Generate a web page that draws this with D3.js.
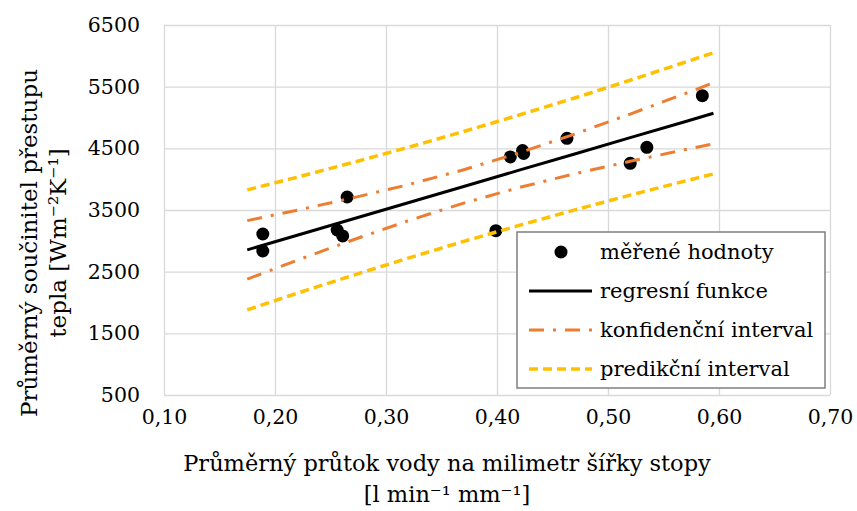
<!DOCTYPE html>
<html>
<head>
<meta charset="utf-8">
<script src="https://cdn.jsdelivr.net/npm/d3@7"></script>
<style>
  html, body { margin: 0; padding: 0; background: #fff; }
  svg text { font-family: "DejaVu Serif", serif; fill: #000; }
</style>
</head>
<body>
<svg id="chart" width="857" height="511"></svg>
<script>
// measured values (průtok, součinitel)
const xData = [0.189, 0.189, 0.265, 0.256, 0.261, 0.399, 0.412, 0.423, 0.424, 0.463, 0.520, 0.535, 0.585];
const yData = [3111, 2835, 3711, 3176, 3079, 3165, 4360, 4465, 4416, 4663, 4257, 4517, 5354];

// fitted curves
const fitX       = [0.175, 0.22, 0.27, 0.32, 0.37, 0.42, 0.47, 0.52, 0.57, 0.595];
const regY       = [2854, 3091, 3355, 3618, 3882, 4146, 4409, 4673, 4936, 5068];
const confUpper  = [3328, 3497, 3696, 3910, 4152, 4427, 4731, 5056, 5391, 5563];
const confLower  = [2380, 2685, 3014, 3326, 3612, 3865, 4087, 4290, 4481, 4573];
const predUpper  = [3827, 4032, 4270, 4516, 4773, 5041, 5317, 5604, 5900, 6051];
const predLower  = [1881, 2150, 2440, 2720, 2991, 3251, 3501, 3742, 3972, 4085];

const xTicks = [0.10, 0.20, 0.30, 0.40, 0.50, 0.60, 0.70];
const yTicks = [500, 1500, 2500, 3500, 4500, 5500, 6500];

const legendLabels = ["měřené hodnoty", "regresní funkce", "konfidenční interval", "predikční interval"];

const C_ORANGE = "#ED7D31", C_YELLOW = "#FFC000", C_GRID = "#d9d9d9";

const svg = d3.select("#chart");
const plot = {left: 164, right: 830, top: 25, bottom: 395};

const x = d3.scaleLinear().domain([0.10, 0.70]).range([plot.left, plot.right]);
const y = d3.scaleLinear().domain([500, 6500]).range([plot.bottom, plot.top]);

// gridlines
const gx = svg.append("g").attr("transform", `translate(0,${plot.bottom})`)
  .call(d3.axisBottom(x).tickValues(xTicks).tickSize(-(plot.bottom - plot.top))
        .tickFormat(d => d3.format(".2f")(d).replace(".", ",")).tickPadding(14));
gx.select(".domain").remove();
gx.selectAll("line").attr("stroke", C_GRID).attr("stroke-width", 1.3);
gx.selectAll("text").attr("font-size", 20.5).attr("font-family", "DejaVu Serif").attr("fill", "#000");

const gy = svg.append("g").attr("transform", `translate(${plot.left},0)`)
  .call(d3.axisLeft(y).tickValues(yTicks).tickSize(-(plot.right - plot.left))
        .tickFormat(d3.format("d")).tickPadding(24));
gy.select(".domain").remove();
gy.selectAll("line").attr("stroke", C_GRID).attr("stroke-width", 1.3);
gy.selectAll("text").attr("font-size", 20.5).attr("font-family", "DejaVu Serif").attr("fill", "#000");

// points
svg.append("g").selectAll("circle").data(xData.map((d, i) => [d, yData[i]])).enter()
  .append("circle").attr("cx", d => x(d[0])).attr("cy", d => y(d[1])).attr("r", 6.5).attr("fill", "#000");

const line = d3.line().x(d => x(d[0])).y(d => y(d[1]));
function drawLine(vals, color, width, dash) {
  svg.append("path").datum(fitX.map((d, i) => [d, vals[i]]))
    .attr("d", line).attr("fill", "none").attr("stroke", color).attr("stroke-width", width)
    .attr("stroke-dasharray", dash || null);
}
drawLine(regY, "#000", 3);
drawLine(confUpper, C_ORANGE, 3, "15,9,3,9");
drawLine(confLower, C_ORANGE, 3, "15,9,3,9");
drawLine(predUpper, C_YELLOW, 3.5, "9,5");
drawLine(predLower, C_YELLOW, 3.5, "9,5");

// legend
const lg = svg.append("g");
lg.append("rect").attr("x", 517).attr("y", 232).attr("width", 308).attr("height", 156)
  .attr("fill", "#fff").attr("stroke", "#7f7f7f").attr("stroke-width", 1.5);
const rowY = [252, 291, 330, 369];
lg.append("circle").attr("cx", 561).attr("cy", rowY[0]).attr("r", 6.5).attr("fill", "#000");
lg.append("line").attr("x1", 529).attr("x2", 592).attr("y1", rowY[1]).attr("y2", rowY[1])
  .attr("stroke", "#000").attr("stroke-width", 3);
lg.append("line").attr("x1", 529).attr("x2", 592).attr("y1", rowY[2]).attr("y2", rowY[2])
  .attr("stroke", C_ORANGE).attr("stroke-width", 3).attr("stroke-dasharray", "15,9,3,9");
lg.append("line").attr("x1", 529).attr("x2", 592).attr("y1", rowY[3]).attr("y2", rowY[3])
  .attr("stroke", C_YELLOW).attr("stroke-width", 3.5).attr("stroke-dasharray", "9,5");
lg.selectAll("text.lt").data(legendLabels).enter().append("text")
  .attr("class", "lt").attr("x", 600).attr("y", (d, i) => rowY[i]).attr("dy", "0.32em")
  .attr("font-size", 21).text(d => d);

// axis titles
svg.append("text").attr("x", 447).attr("y", 463).attr("dy", "0.35em").attr("text-anchor", "middle")
  .attr("font-size", 22.5).text("Průměrný průtok vody na milimetr šířky stopy");
svg.append("text").attr("x", 447).attr("y", 494).attr("dy", "0.35em").attr("text-anchor", "middle")
  .attr("font-size", 22.5).text("[l min⁻¹ mm⁻¹]");

const yt = svg.append("g").attr("transform", "translate(0,243) rotate(-90)");
yt.append("text").attr("x", 0).attr("y", 29).attr("dy", "0.35em").attr("text-anchor", "middle")
  .attr("font-size", 23).text("Průměrný součinitel přestupu");
yt.append("text").attr("x", 0).attr("y", 58).attr("dy", "0.35em").attr("text-anchor", "middle")
  .attr("font-size", 23).text("tepla [Wm⁻²K⁻¹]");
</script>
</body>
</html>
